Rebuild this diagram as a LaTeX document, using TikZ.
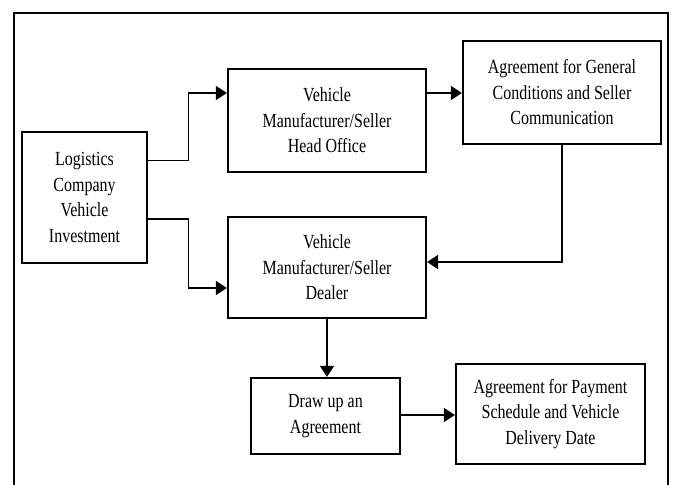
\documentclass[tikz,border=0pt]{standalone}
\usepackage{fontspec}
\setmainfont[FakeStretch=0.8]{Liberation Serif}
\usetikzlibrary{arrows.meta}
\begin{document}
\begin{tikzpicture}[x=1pt,y=-1pt,
  box/.style={draw,line width=2.2pt,inner sep=0pt,align=center,
    font=\fontsize{20}{25.5}\selectfont},
  conn/.style={line width=1.5pt,-{Triangle[length=11pt,width=14pt]}}]
\useasboundingbox (0,0) rectangle (673,485);
\draw[line width=2.5pt] (14,485) -- (14,13) -- (668,13) -- (668,485);
\node[box,minimum width=125pt,minimum height=131pt] (log) at (84.5,197.5) {Logistics\\Company\\Vehicle\\Investment};
\node[box,minimum width=198pt,minimum height=103pt] (head) at (327,120.5) {Vehicle\\Manufacturer/Seller\\Head Office};
\node[box,minimum width=198pt,minimum height=103pt] (gen) at (562,92.5) {Agreement for General\\Conditions and Seller\\Communication};
\node[box,minimum width=198pt,minimum height=101pt] (dealer) at (327,267.5) {Vehicle\\Manufacturer/Seller\\Dealer};
\node[box,minimum width=149pt,minimum height=76pt] (draw) at (325.5,416) {Draw up an\\Agreement};
\node[box,minimum width=189pt,minimum height=100pt] (pay) at (550.5,414) {Agreement for Payment\\Schedule and Vehicle\\Delivery Date};
\coordinate (j1) at (188.5,160.7);
\coordinate (j2) at (188.5,219);
\draw[conn] (log.east |- j1) -- (j1) |- (head.west |- 0,93);
\draw[conn] (log.east |- j2) -- (j2) |- (dealer.west |- 0,288);
\draw[conn] (head.east |- 0,93) -- (gen.west |- 0,93);
\draw[conn] (gen.south) |- (dealer.east |- 0,262);
\draw[conn] (dealer.south) -- (dealer.south |- draw.north);
\draw[conn] (draw.east |- 0,415) -- (pay.west |- 0,415);
\end{tikzpicture}
\end{document}
